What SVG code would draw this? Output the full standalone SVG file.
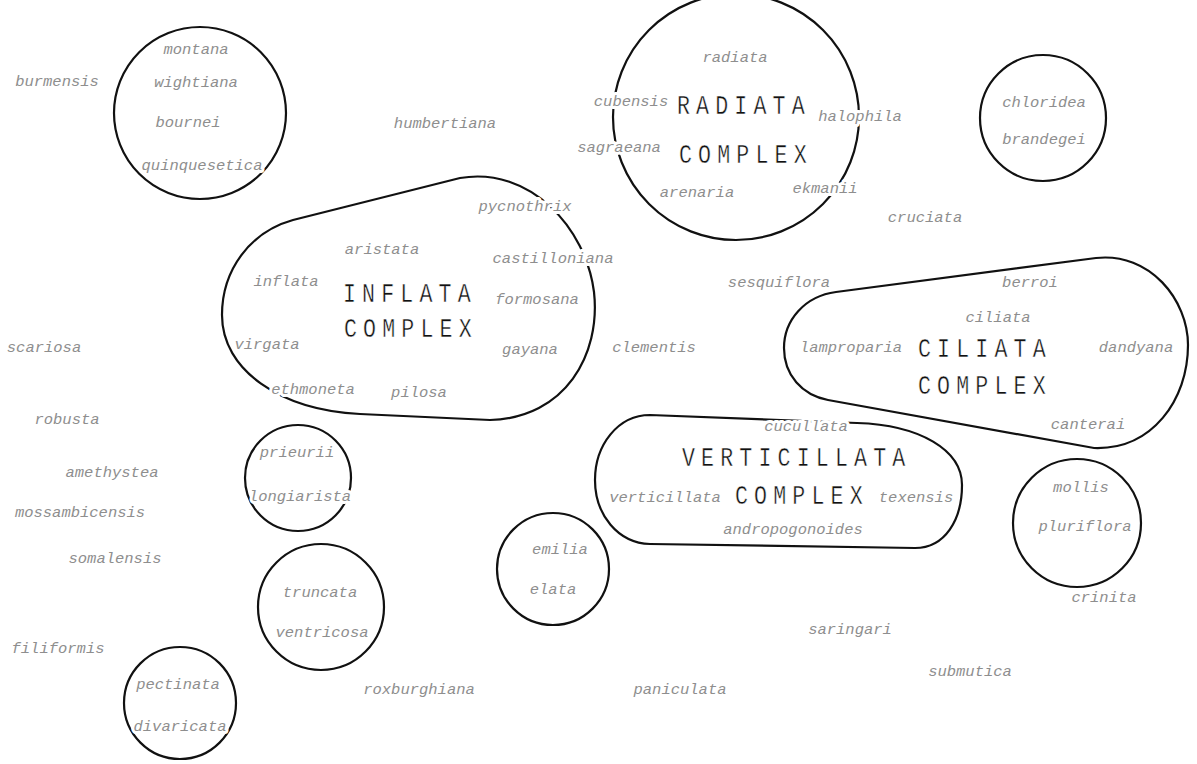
<svg xmlns="http://www.w3.org/2000/svg" width="1197" height="764" viewBox="0 0 1197 764">
<style>
.bg{fill:#ffffff}
.ring{fill:none;stroke:#111;stroke-width:2.2}
.sp{font-family:"Liberation Mono",monospace;font-style:italic;font-size:15.5px;fill:#8e8e8e;text-anchor:middle;stroke:#fff;stroke-width:6px;paint-order:stroke;stroke-linejoin:round}
.cx{font-family:"Liberation Mono",monospace;font-size:27px;fill:#111;letter-spacing:7.7px;stroke:#fff;stroke-width:0.45px}
</style>
<rect class="bg" x="0" y="0" width="1197" height="764"/>
<g id="connectors"></g>

<g id="montana-group">
<circle class="ring" cx="200" cy="113" r="86"/>
<text class="sp" x="196" y="54">montana</text>
<text class="sp" x="196" y="87">wightiana</text>
<text class="sp" x="188" y="127">bournei</text>
<text class="sp" x="202" y="170">quinquesetica</text>
</g>

<g id="radiata-complex">
<circle class="ring" cx="736" cy="117" r="123"/>
<text class="sp" x="735" y="62">radiata</text>
<text class="sp" x="631" y="106">cubensis</text>
<text class="sp" x="619" y="152">sagraeana</text>
<text class="sp" x="697" y="197">arenaria</text>
<text class="sp" x="860" y="121">halophila</text>
<text class="sp" x="825" y="193">ekmanii</text>
<text class="cx" transform="translate(677,114) scale(0.8,1)">RADIATA</text>
<text class="cx" transform="translate(679,163) scale(0.8,1)">COMPLEX</text>
</g>

<g id="chloridea-group">
<circle class="ring" cx="1043" cy="118" r="63"/>
<text class="sp" x="1044" y="107">chloridea</text>
<text class="sp" x="1044" y="144">brandegei</text>
</g>

<g id="inflata-complex">
<path class="ring" d="M 293,220 L 460,178 C 530,166 586,228 594,292 C 601,355 565,418 490,420 L 360,414 C 280,410 222,370 222,315 C 222,270 250,232 293,220 Z"/>
<text class="sp" x="525" y="211">pycnothrix</text>
<text class="sp" x="382" y="254">aristata</text>
<text class="sp" x="553" y="263">castilloniana</text>
<text class="sp" x="286" y="286">inflata</text>
<text class="sp" x="537" y="304">formosana</text>
<text class="sp" x="267" y="349">virgata</text>
<text class="sp" x="530" y="354">gayana</text>
<text class="sp" x="313" y="394">ethmoneta</text>
<text class="sp" x="419" y="397">pilosa</text>
<text class="cx" transform="translate(343,302) scale(0.8,1)">INFLATA</text>
<text class="cx" transform="translate(344,337) scale(0.8,1)">COMPLEX</text>
</g>

<g id="ciliata-complex">
<path class="ring" d="M 836,292 L 1096,258 C 1150,252 1188,300 1188,345 C 1188,400 1152,450 1094,448 L 828,400 C 802,395 784,375 784,348 C 784,320 805,296 836,292 Z"/>
<text class="sp" x="1030" y="287">berroi</text>
<text class="sp" x="998" y="322">ciliata</text>
<text class="sp" x="851" y="352">lamproparia</text>
<text class="sp" x="1136" y="352">dandyana</text>
<text class="sp" x="1088" y="429">canterai</text>
<text class="cx" transform="translate(918,357) scale(0.8,1)">CILIATA</text>
<text class="cx" transform="translate(918,394) scale(0.8,1)">COMPLEX</text>
</g>

<g id="verticillata-complex">
<path class="ring" d="M 650,415 L 857,423 C 920,425 962,450 962,485 C 962,520 945,548 915,548 L 650,544 C 618,543 595,515 595,480 C 595,445 618,415 650,415 Z"/>
<text class="sp" x="806" y="431">cucullata</text>
<text class="sp" x="665" y="502">verticillata</text>
<text class="sp" x="916" y="502">texensis</text>
<text class="sp" x="793" y="534">andropogonoides</text>
<text class="cx" transform="translate(682,466) scale(0.8,1)">VERTICILLATA</text>
<text class="cx" transform="translate(735,504) scale(0.8,1)">COMPLEX</text>
</g>

<g id="prieurii-group">
<circle class="ring" cx="298" cy="478" r="53"/>
<text class="sp" x="297" y="457">prieurii</text>
<text class="sp" x="300" y="501">longiarista</text>
</g>

<g id="elata-group">
<circle class="ring" cx="553" cy="569" r="56"/>
<text class="sp" x="560" y="554">emilia</text>
<text class="sp" x="553" y="594">elata</text>
</g>

<g id="mollis-group">
<circle class="ring" cx="1077" cy="523" r="64"/>
<text class="sp" x="1081" y="492">mollis</text>
<text class="sp" x="1085" y="531">pluriflora</text>
</g>

<g id="truncata-group">
<circle class="ring" cx="321" cy="607" r="63"/>
<text class="sp" x="320" y="597">truncata</text>
<text class="sp" x="322" y="637">ventricosa</text>
</g>

<g id="pectinata-group">
<circle class="ring" cx="180" cy="703" r="56"/>
<text class="sp" x="178" y="689">pectinata</text>
<text class="sp" x="180" y="731">divaricata</text>
</g>

<g id="burmensis"><text class="sp" x="57" y="86">burmensis</text></g>
<g id="humbertiana"><text class="sp" x="445" y="128">humbertiana</text></g>
<g id="cruciata"><text class="sp" x="925" y="222">cruciata</text></g>
<g id="sesquiflora"><text class="sp" x="779" y="287">sesquiflora</text></g>
<g id="clementis"><text class="sp" x="654" y="352">clementis</text></g>
<g id="scariosa"><text class="sp" x="44" y="352">scariosa</text></g>
<g id="robusta"><text class="sp" x="67" y="424">robusta</text></g>
<g id="amethystea"><text class="sp" x="112" y="477">amethystea</text></g>
<g id="mossambicensis"><text class="sp" x="80" y="517">mossambicensis</text></g>
<g id="somalensis"><text class="sp" x="115" y="563">somalensis</text></g>
<g id="filiformis"><text class="sp" x="58" y="653">filiformis</text></g>
<g id="roxburghiana"><text class="sp" x="419" y="694">roxburghiana</text></g>
<g id="paniculata"><text class="sp" x="680" y="694">paniculata</text></g>
<g id="saringari"><text class="sp" x="850" y="634">saringari</text></g>
<g id="submutica"><text class="sp" x="970" y="676">submutica</text></g>
<g id="crinita"><text class="sp" x="1104" y="602">crinita</text></g>
</svg>
